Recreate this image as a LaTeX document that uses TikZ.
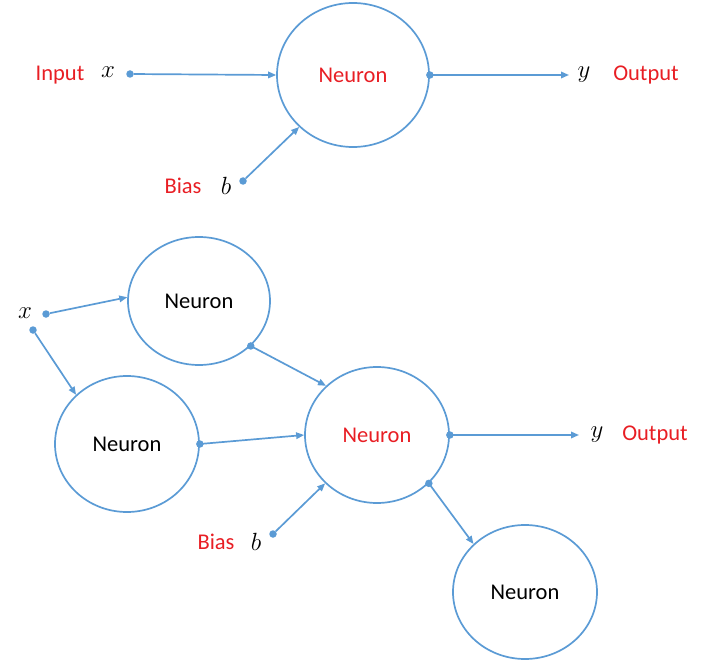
\documentclass[tikz,border=0pt]{standalone}
\usepackage{fontspec}
\setmainfont{Carlito}
\usetikzlibrary{shapes.geometric,arrows.meta}
\definecolor{nblue}{RGB}{91,155,213}
\definecolor{nred}{RGB}{232,30,36}
\begin{document}
\begin{tikzpicture}[x=1pt,y=-1pt,
  neuron/.style={ellipse,draw=nblue,line width=1.7pt,inner sep=0pt,font=\fontsize{22.5}{26}\selectfont},
  conn/.style={nblue,line width=1.7pt,-{Triangle[length=8pt,width=6.5pt]}},
  dotpt/.style={circle,fill=nblue,inner sep=0pt,minimum size=7.5pt},
  lbl/.style={text=nred,font=\fontsize{22.5}{26}\selectfont,inner sep=0pt},
  var/.style={font=\fontsize{29}{32}\selectfont,inner sep=0pt}]
\useasboundingbox (0,0) rectangle (715,666);
% ---------- top diagram ----------
\node[neuron,minimum width=152pt,minimum height=144pt,text=nred] (T) at (353,75) {Neuron};
\node[lbl] (tin) at (60,75) {Input};
\node[var] (tx) at (108,72) {$x$};
\node[dotpt] (txd) at (130,74) {};
\draw[conn] (txd) -- (T.west);
\node[dotpt] (tod) at (T.east) {};
\coordinate (toe) at (569,75);
\draw[conn] (tod.center) -- (toe);
\node[var] (ty) at (584,75) {$y$};
\node[lbl] (tout) at (646,75) {Output};
\node[dotpt] (tbd) at (243,181) {};
\draw[conn] (tbd) -- (T.224);
\node[lbl] (tbias) at (183,186) {Bias};
\node[var] (tb) at (226,186) {$b$};
% ---------- bottom diagram ----------
\node[neuron,minimum width=142pt,minimum height=128pt] (A) at (199,301) {Neuron};
\node[neuron,minimum width=144pt,minimum height=136pt] (B) at (127,444) {Neuron};
\node[neuron,minimum width=144pt,minimum height=136pt,text=nred] (C) at (377,435) {Neuron};
\node[neuron,minimum width=144pt,minimum height=134pt] (D) at (525,592) {Neuron};
\node[var] (bx) at (25,313) {$x$};
\node[dotpt] (bxd1) at (46,314) {};
\node[dotpt] (bxd2) at (33,330) {};
\draw[conn] (bxd1) -- (A.177);
\draw[conn] (bxd2) -- (B.136);
\node[dotpt] (Ad) at (A.319) {};
\draw[conn] (Ad.center) -- (C.136);
\node[dotpt] (Bd) at (B.east) {};
\draw[conn] (Bd.center) -- (C.west);
\node[dotpt] (Cd) at (C.east) {};
\coordinate (boe) at (579,435);
\draw[conn] (Cd.center) -- (boe);
\node[var] (by) at (597,435) {$y$};
\node[lbl] (bout) at (655,435) {Output};
\node[dotpt] (bbd) at (273,534) {};
\draw[conn] (bbd) -- (C.223);
\node[lbl] (bbias) at (216,542) {Bias};
\node[var] (bb) at (256,542) {$b$};
\node[dotpt] (Cd2) at (C.317) {};
\draw[conn] (Cd2.center) -- (D.137);
\end{tikzpicture}
\end{document}
